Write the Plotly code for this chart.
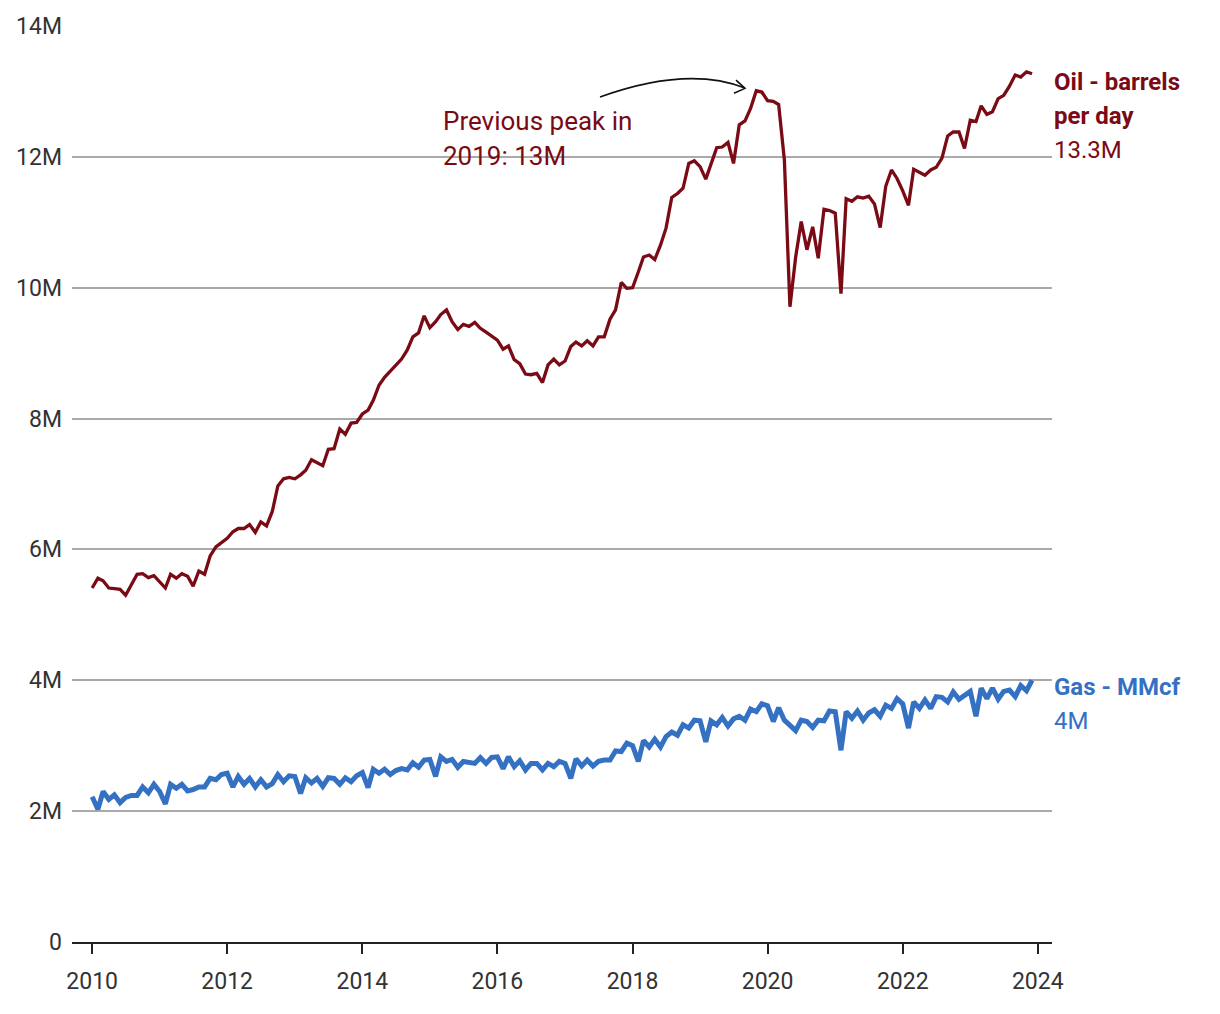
import pandas as pd
import plotly.graph_objects as go

# Monthly values, Jan 2010 - Dec 2023 (millions)
oil = [
    5.41, 5.56, 5.52, 5.41, 5.40, 5.39, 5.30, 5.46, 5.62, 5.63, 5.57, 5.60,
    5.51, 5.41, 5.62, 5.56, 5.63, 5.59, 5.44, 5.67, 5.62, 5.90, 6.04, 6.11,
    6.17, 6.27, 6.32, 6.32, 6.38, 6.26, 6.42, 6.36, 6.58, 6.97, 7.08, 7.10,
    7.08, 7.14, 7.21, 7.37, 7.33, 7.28, 7.53, 7.54, 7.84, 7.76, 7.93, 7.94,
    8.07, 8.13, 8.28, 8.51, 8.63, 8.72, 8.82, 8.91, 9.05, 9.25, 9.31, 9.57,
    9.39, 9.48, 9.59, 9.66, 9.48, 9.36, 9.44, 9.41, 9.47, 9.38, 9.32, 9.26,
    9.20, 9.06, 9.11, 8.90, 8.84, 8.68, 8.67, 8.69, 8.55, 8.82, 8.91, 8.82,
    8.88, 9.10, 9.17, 9.11, 9.19, 9.11, 9.25, 9.25, 9.52, 9.66, 10.08, 9.99,
    10.00, 10.24, 10.47, 10.50, 10.43, 10.65, 10.91, 11.38, 11.44, 11.52, 11.90, 11.94,
    11.85, 11.66, 11.90, 12.14, 12.15, 12.22, 11.90, 12.49, 12.55, 12.74, 13.01, 12.99,
    12.86, 12.85, 12.80, 11.95, 9.71, 10.47, 11.01, 10.58, 10.93, 10.45, 11.20, 11.18,
    11.14, 9.91, 11.36, 11.32, 11.39, 11.37, 11.40, 11.28, 10.92, 11.55, 11.80, 11.67,
    11.48, 11.26, 11.81, 11.76, 11.72, 11.80, 11.84, 11.98, 12.32, 12.38, 12.38, 12.13,
    12.56, 12.54, 12.78, 12.65, 12.69, 12.89, 12.94, 13.08, 13.25, 13.22, 13.30, 13.27,
]

gas = [
    2.22, 2.03, 2.30, 2.18, 2.25, 2.13, 2.21, 2.24, 2.24, 2.37, 2.28, 2.41,
    2.30, 2.11, 2.41, 2.35, 2.41, 2.31, 2.33, 2.37, 2.37, 2.50, 2.48, 2.56,
    2.58, 2.37, 2.53, 2.41, 2.50, 2.37, 2.48, 2.37, 2.42, 2.56, 2.45, 2.54,
    2.53, 2.27, 2.51, 2.43, 2.50, 2.38, 2.51, 2.50, 2.41, 2.51, 2.45, 2.54,
    2.59, 2.36, 2.64, 2.58, 2.64, 2.56, 2.62, 2.65, 2.63, 2.74, 2.67, 2.78,
    2.79, 2.53, 2.83, 2.76, 2.79, 2.67, 2.76, 2.75, 2.73, 2.82, 2.73, 2.82,
    2.83, 2.65, 2.83, 2.68, 2.77, 2.63, 2.73, 2.73, 2.63, 2.73, 2.68, 2.76,
    2.73, 2.50, 2.80, 2.69, 2.78, 2.69, 2.76, 2.78, 2.78, 2.92, 2.91, 3.04,
    3.00, 2.76, 3.08, 2.98, 3.10, 2.98, 3.14, 3.21, 3.16, 3.32, 3.27, 3.39,
    3.38, 3.06, 3.38, 3.32, 3.43, 3.30, 3.41, 3.45, 3.39, 3.56, 3.52, 3.64,
    3.61, 3.37, 3.58, 3.39, 3.31, 3.23, 3.39, 3.37, 3.28, 3.39, 3.38, 3.53,
    3.52, 2.93, 3.52, 3.42, 3.53, 3.39, 3.50, 3.55, 3.45, 3.62, 3.57, 3.72,
    3.64, 3.27, 3.67, 3.57, 3.70, 3.57, 3.75, 3.74, 3.67, 3.82, 3.71, 3.76,
    3.83, 3.45, 3.88, 3.72, 3.88, 3.71, 3.83, 3.85, 3.75, 3.92, 3.84, 4.00,
]

y_tickvals = [0, 2, 4, 6, 8, 10, 12, 14]
y_ticktext = ["0", "2M", "4M", "6M", "8M", "10M", "12M", "14M"]

oil_name = ["Oil - barrels", "per day"]
gas_name = ["Gas - MMcf"]
note_lines = ["Previous peak in", "2019: 13M"]

dates = pd.date_range("2010-01-01", periods=len(oil), freq="MS")

OIL_C = "#7a0a14"
GAS_C = "#3571c3"
FONT = "Roboto"

fig = go.Figure()
fig.add_trace(go.Scatter(x=dates, y=oil, mode="lines",
                         line=dict(color=OIL_C, width=3.3), hoverinfo="skip"))
fig.add_trace(go.Scatter(x=dates, y=gas, mode="lines",
                         line=dict(color=GAS_C, width=5), hoverinfo="skip"))

def fmt(v):
    return f"{v:.3g}M"

ann = []
# Oil labels
for i, t in enumerate(oil_name):
    ann.append(dict(x=1.0, xref="paper", y=oil[-1], yref="y", xanchor="left",
                    yanchor="middle", yshift=-8 - 34 * i, showarrow=False,
                    text=f"<b>{t}</b>", font=dict(family=FONT, size=24, color=OIL_C)))
ann.append(dict(x=1.0, xref="paper", y=oil[-1], yref="y", xanchor="left",
                yanchor="middle", yshift=-8 - 34 * len(oil_name), showarrow=False,
                text=fmt(oil[-1]), font=dict(family=FONT, size=24, color=OIL_C)))
# Gas labels
for i, t in enumerate(gas_name):
    ann.append(dict(x=1.0, xref="paper", y=gas[-1], yref="y", xanchor="left",
                    yanchor="middle", yshift=-7 - 34 * i, showarrow=False,
                    text=f"<b>{t}</b>", font=dict(family=FONT, size=24, color=GAS_C)))
ann.append(dict(x=1.0, xref="paper", y=gas[-1], yref="y", xanchor="left",
                yanchor="middle", yshift=-7 - 34 * len(gas_name), showarrow=False,
                text=fmt(gas[-1]), font=dict(family=FONT, size=24, color=GAS_C)))
# Peak note
for i, t in enumerate(note_lines):
    ann.append(dict(x=0.3765, xref="paper", y=0.8963 - i * 0.0382, yref="paper",
                    xanchor="left", yanchor="middle", showarrow=False, text=t,
                    font=dict(family=FONT, size=26, color=OIL_C)))
fig.update_layout(annotations=ann)

# Curved arrow
fig.add_shape(type="path", xref="paper", yref="paper",
              path="M 0.5388,0.9225 Q 0.6281,0.9569 0.6867,0.9323",
              line=dict(color="#111", width=1.6))
fig.add_shape(type="path", xref="paper", yref="paper",
              path="M 0.6776,0.9410 L 0.6867,0.9319 L 0.6755,0.9265",
              line=dict(color="#111", width=1.6))

fig.update_xaxes(
    type="date", range=["2009-09-14", "2024-03-18"],
    tickvals=pd.date_range("2010-01-01", "2024-01-01", freq="2YS"),
    tickformat="%Y", ticks="outside", ticklen=10, tickwidth=1.5, tickcolor="#222",
    showline=True, linecolor="#222", linewidth=2, showgrid=False, zeroline=False,
    ticklabelstandoff=7,
    tickfont=dict(family=FONT, size=23, color="#333"),
)
fig.update_yaxes(
    range=[0, 14], tickvals=y_tickvals, ticktext=y_ticktext,
    showgrid=True, gridcolor="#aaaaaa", gridwidth=1.5, zeroline=False,
    showline=False, ticks="", ticklabelstandoff=9,
    tickfont=dict(family=FONT, size=23, color="#333"),
)

fig.update_layout(
    width=1220, height=1014,
    margin=dict(l=72, r=168, t=26, b=72),
    plot_bgcolor="white", paper_bgcolor="white",
    showlegend=False,
    font=dict(family=FONT),
)

fig.write_html("out.html", config={"displayModeBar": False},
               post_script="document.body.style.margin='0';document.body.style.overflow='hidden';")
